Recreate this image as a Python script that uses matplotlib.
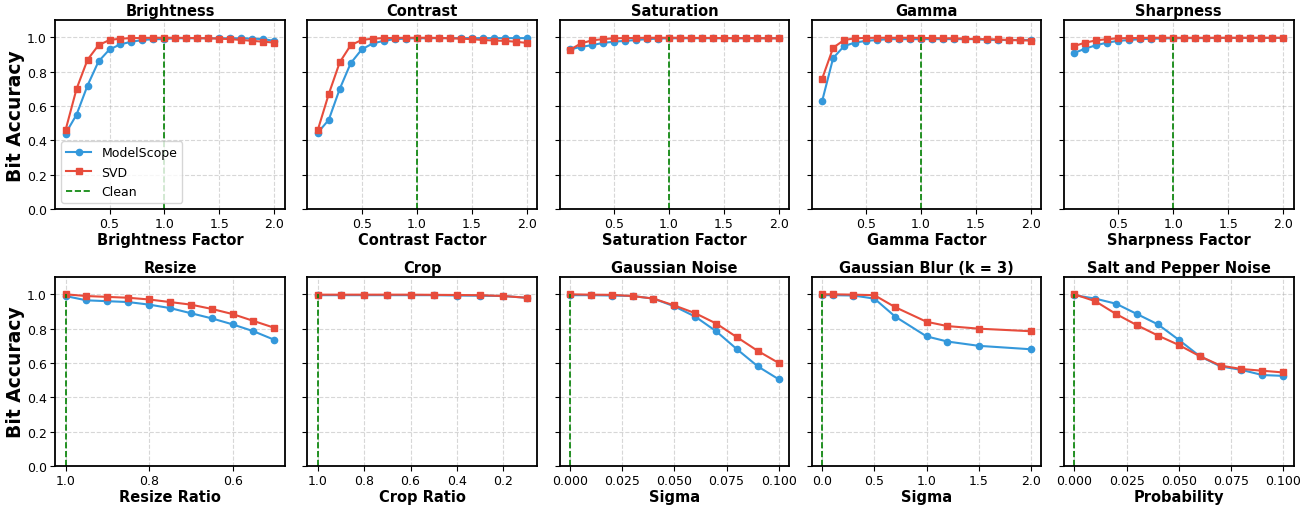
import matplotlib.pyplot as plt
import numpy as np

# colour-ish attacks, factor 0.1 .. 2.0
factors = np.round(np.arange(0.1, 2.01, 0.1), 1)

brightness_ms = [0.44, 0.55, 0.72, 0.86, 0.93, 0.96, 0.975, 0.985, 0.99, 0.99,
                 0.995, 0.995, 0.995, 0.995, 0.995, 0.995, 0.995, 0.993, 0.99, 0.98]
brightness_svd = [0.46, 0.70, 0.87, 0.955, 0.985, 0.993, 0.996, 0.997, 0.998, 0.998,
                  0.998, 0.997, 0.996, 0.995, 0.993, 0.99, 0.985, 0.98, 0.975, 0.97]

contrast_ms = [0.445, 0.52, 0.70, 0.85, 0.93, 0.965, 0.98, 0.99, 0.993, 0.995,
               0.995, 0.996, 0.996, 0.996, 0.996, 0.996, 0.996, 0.996, 0.996, 0.996]
contrast_svd = [0.46, 0.67, 0.855, 0.955, 0.985, 0.993, 0.996, 0.997, 0.998, 0.998,
                0.998, 0.997, 0.995, 0.993, 0.99, 0.985, 0.982, 0.98, 0.975, 0.968]

saturation_ms = [0.93, 0.945, 0.955, 0.968, 0.975, 0.98, 0.985, 0.99, 0.993, 0.995,
                 0.995, 0.995, 0.995, 0.995, 0.995, 0.995, 0.995, 0.995, 0.995, 0.995]
saturation_svd = [0.928, 0.965, 0.983, 0.99, 0.995, 0.996, 0.997, 0.998, 0.998, 0.998,
                  0.998, 0.997, 0.997, 0.997, 0.996, 0.996, 0.996, 0.996, 0.995, 0.995]

gamma_ms = [0.63, 0.88, 0.95, 0.97, 0.98, 0.985, 0.99, 0.99, 0.99, 0.99,
            0.99, 0.99, 0.99, 0.99, 0.99, 0.985, 0.985, 0.985, 0.985, 0.985]
gamma_svd = [0.76, 0.94, 0.985, 0.995, 0.997, 0.998, 0.998, 0.998, 0.998, 0.997,
             0.996, 0.995, 0.995, 0.993, 0.99, 0.99, 0.988, 0.985, 0.983, 0.982]

sharpness_ms = [0.91, 0.935, 0.955, 0.97, 0.98, 0.985, 0.99, 0.992, 0.994, 0.995,
                0.996, 0.996, 0.996, 0.997, 0.997, 0.997, 0.997, 0.997, 0.997, 0.997]
sharpness_svd = [0.95, 0.97, 0.983, 0.99, 0.995, 0.996, 0.997, 0.998, 0.998, 0.998,
                 0.998, 0.998, 0.998, 0.998, 0.998, 0.998, 0.998, 0.998, 0.998, 0.998]

# geometric / noise attacks
resize_x = [1.0, 0.95, 0.9, 0.85, 0.8, 0.75, 0.7, 0.65, 0.6, 0.55, 0.5]
resize_ms = [0.99, 0.965, 0.96, 0.955, 0.94, 0.92, 0.89, 0.86, 0.825, 0.785, 0.735]
resize_svd = [1.0, 0.99, 0.985, 0.98, 0.97, 0.955, 0.94, 0.915, 0.885, 0.845, 0.805]

crop_x = [1.0, 0.9, 0.8, 0.7, 0.6, 0.5, 0.4, 0.3, 0.2, 0.1]
crop_ms = [0.995, 0.995, 0.995, 0.995, 0.995, 0.995, 0.993, 0.992, 0.99, 0.98]
crop_svd = [0.998, 0.998, 0.998, 0.998, 0.998, 0.997, 0.996, 0.995, 0.99, 0.98]

noise_x = [0.0, 0.01, 0.02, 0.03, 0.04, 0.05, 0.06, 0.07, 0.08, 0.09, 0.1]
noise_ms = [0.995, 0.995, 0.993, 0.99, 0.975, 0.93, 0.87, 0.785, 0.68, 0.58, 0.505]
noise_svd = [1.0, 0.998, 0.997, 0.99, 0.975, 0.935, 0.89, 0.83, 0.75, 0.67, 0.60]

blur_x = [0.0, 0.1, 0.3, 0.5, 0.7, 1.0, 1.2, 1.5, 2.0]
blur_ms = [0.995, 0.995, 0.993, 0.975, 0.87, 0.755, 0.725, 0.70, 0.68]
blur_svd = [1.0, 1.0, 0.998, 0.995, 0.925, 0.84, 0.815, 0.80, 0.785]

sp_x = [0.0, 0.01, 0.02, 0.03, 0.04, 0.05, 0.06, 0.07, 0.08, 0.09, 0.1]
sp_ms = [0.995, 0.975, 0.945, 0.885, 0.825, 0.735, 0.64, 0.58, 0.56, 0.53, 0.525]
sp_svd = [1.0, 0.96, 0.885, 0.82, 0.76, 0.705, 0.64, 0.585, 0.565, 0.555, 0.545]

panels = [
    ("Brightness", "Brightness Factor", factors, brightness_ms, brightness_svd, 1.0),
    ("Contrast", "Contrast Factor", factors, contrast_ms, contrast_svd, 1.0),
    ("Saturation", "Saturation Factor", factors, saturation_ms, saturation_svd, 1.0),
    ("Gamma", "Gamma Factor", factors, gamma_ms, gamma_svd, 1.0),
    ("Sharpness", "Sharpness Factor", factors, sharpness_ms, sharpness_svd, 1.0),
    ("Resize", "Resize Ratio", resize_x, resize_ms, resize_svd, 1.0),
    ("Crop", "Crop Ratio", crop_x, crop_ms, crop_svd, 1.0),
    ("Gaussian Noise", "Sigma", noise_x, noise_ms, noise_svd, 0.0),
    ("Gaussian Blur (k = 3)", "Sigma", blur_x, blur_ms, blur_svd, 0.0),
    ("Salt and Pepper Noise", "Probability", sp_x, sp_ms, sp_svd, 0.0),
]

blue = '#3498db'
red = '#e74c3c'

fig, axes = plt.subplots(2, 5, figsize=(13.12, 5.06), dpi=100, sharey='row')
fig.subplots_adjust(left=0.042, right=0.986, top=0.958, bottom=0.077,
                    wspace=0.098, hspace=0.36)

for i, (title, xlab, x, ms, svd, clean) in enumerate(panels):
    ax = axes.flat[i]
    ax.plot(x, ms, '-o', color=blue, lw=1.5, ms=4.5, label='ModelScope')
    ax.plot(x, svd, '-s', color=red, lw=1.5, ms=5, label='SVD')
    ax.vlines(clean, 0, 1.0, colors='green', linestyles='--', lw=1.2, label='Clean')
    ax.set_title(title, fontsize=10.5, fontweight='bold', pad=4)
    ax.set_xlabel(xlab, fontsize=10.5, fontweight='bold', labelpad=1)
    ax.set_ylim(0, 1.1)
    ax.set_yticks([0, 0.2, 0.4, 0.6, 0.8, 1.0])
    ax.grid(True, ls='--', alpha=0.5)
    ax.tick_params(labelsize=9, pad=2.5)
    for s in ax.spines.values():
        s.set_linewidth(1.3)
    if title in ("Resize", "Crop"):
        ax.invert_xaxis()
    if title == "Resize":
        ax.set_xticks([1.0, 0.8, 0.6])
    if title == "Crop":
        ax.set_xticks([1.0, 0.8, 0.6, 0.4, 0.2])
    if title in ("Gaussian Noise", "Salt and Pepper Noise"):
        ax.set_xticks([0.0, 0.025, 0.05, 0.075, 0.1])
        ax.set_xticklabels(['0.000', '0.025', '0.050', '0.075', '0.100'])
    if i < 5:
        ax.set_xticks([0.5, 1.0, 1.5, 2.0])
    if i % 5 == 0:
        ax.set_ylabel("Bit Accuracy", fontsize=13.5, fontweight='bold', labelpad=1)

axes[0, 0].legend(loc='lower left', fontsize=9)

plt.savefig('out.png')
